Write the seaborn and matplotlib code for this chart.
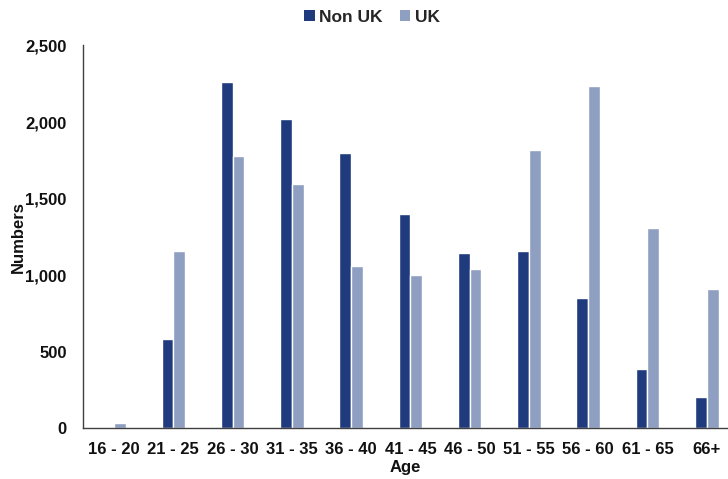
import pandas as pd
import matplotlib
matplotlib.use("Agg")
import matplotlib.pyplot as plt
from matplotlib.patches import Patch
from matplotlib.ticker import StrMethodFormatter
import seaborn as sns

# age bands and counts
AGE_BANDS = ['16 - 20', '21 - 25', '26 - 30', '31 - 35', '36 - 40', '41 - 45',
             '46 - 50', '51 - 55', '56 - 60', '61 - 65', '66+']
NON_UK = [0, 580, 2260, 2020, 1795, 1397, 1148, 1160, 852, 389, 202]
UK = [35, 1160, 1780, 1594, 1060, 998, 1043, 1820, 2238, 1311, 907]
SERIES = ['Non UK', 'UK']
COLORS = ['#1F3A7D', '#8E9FC1']

sns.set_style('white')
plt.rcParams['font.family'] = ['Liberation Sans', 'DejaVu Sans']
plt.rcParams['font.weight'] = 'bold'

df = pd.DataFrame({
    'Age': AGE_BANDS * 2,
    'Numbers': NON_UK + UK,
    'Group': [SERIES[0]] * len(AGE_BANDS) + [SERIES[1]] * len(AGE_BANDS),
})

fig = plt.figure(figsize=(7.28, 4.79), dpi=100)
ax = fig.add_axes([0.1144, 0.1058, 0.8856, 0.7993])

sns.barplot(data=df, x='Age', y='Numbers', hue='Group', hue_order=SERIES,
            order=AGE_BANDS, palette=COLORS, width=0.4, saturation=1,
            legend=False, ax=ax)

ax.set_xlim(-0.52, 10.36)
ax.set_ylim(0, 2500)
ax.set_yticks([0, 500, 1000, 1500, 2000, 2500])
ax.yaxis.set_major_formatter(StrMethodFormatter('{x:,.0f}'))

ax.tick_params(axis='both', length=0, labelsize=12, labelcolor='#111111')
ax.tick_params(axis='y', pad=12)
ax.tick_params(axis='x', pad=10)
for lbl in ax.get_xticklabels() + ax.get_yticklabels():
    lbl.set_fontweight('bold')

ax.set_xlabel('Age', fontsize=12, fontweight='bold', labelpad=2, color='#111111')
ax.set_ylabel('Numbers', fontsize=12, fontweight='bold', color='#111111')
ax.yaxis.set_label_coords(-0.089, 0.5)

for side in ['top', 'right']:
    ax.spines[side].set_visible(False)
for side in ['left', 'bottom']:
    ax.spines[side].set_color('#404040')
    ax.spines[side].set_linewidth(1.0)

handles = [Patch(facecolor=c, edgecolor='none', label=s) for s, c in zip(SERIES, COLORS)]
fig.legend(handles=handles, loc='center', bbox_to_anchor=(0.511, 0.964), ncol=2,
           frameon=False, handlelength=0.6, handleheight=0.6, handletextpad=0.25,
           columnspacing=1.0, prop={'weight': 'bold', 'size': 12.5})

fig.savefig('out.png', dpi=100)
